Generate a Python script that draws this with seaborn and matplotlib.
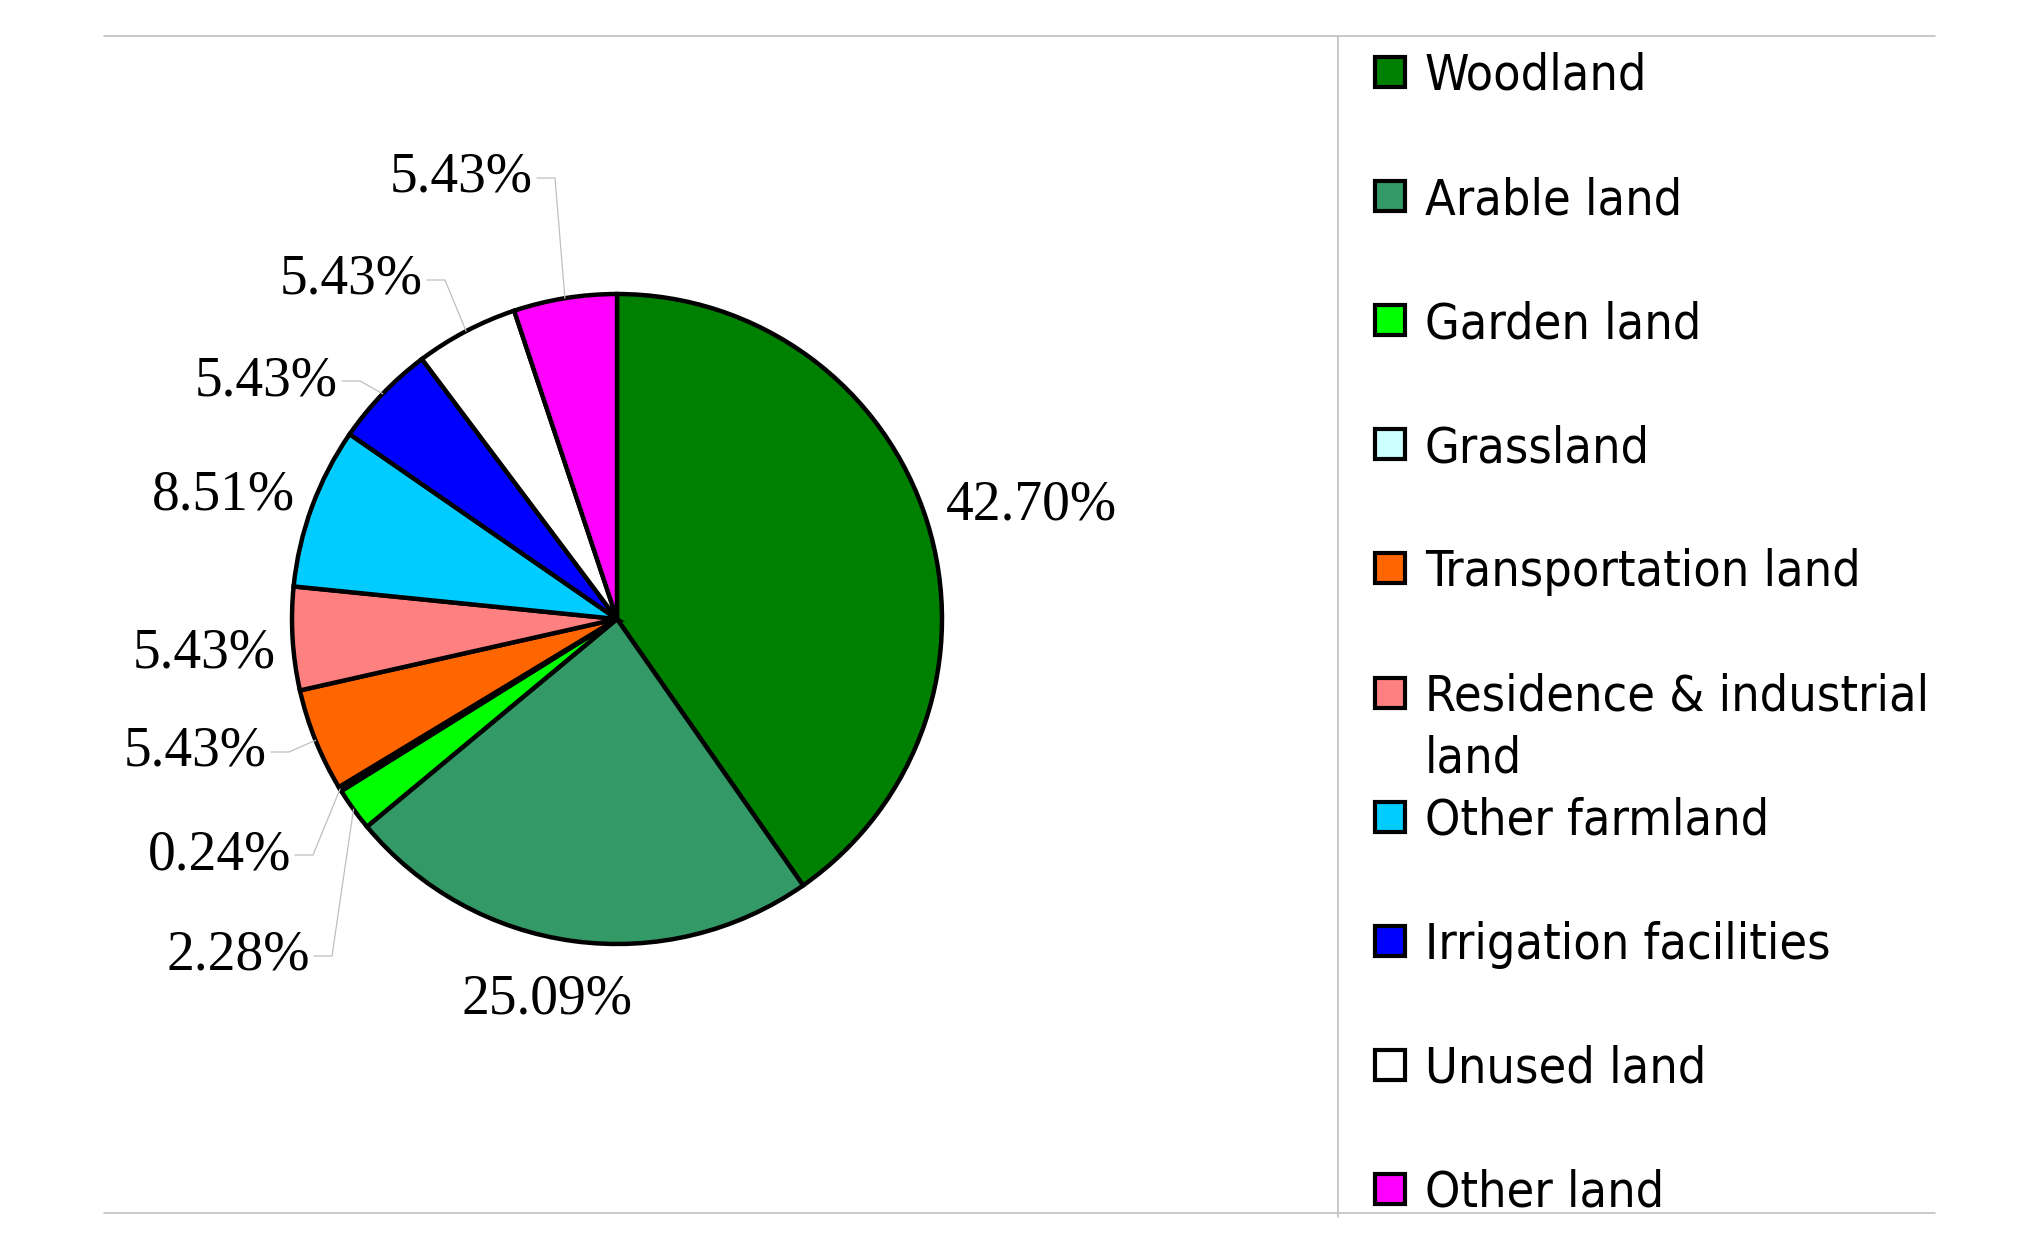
import numpy as np
import matplotlib
matplotlib.use('Agg')
import matplotlib.pyplot as plt
import seaborn as sns
from matplotlib.lines import Line2D
from matplotlib.patches import Rectangle

# land use shares (%), in drawing order, clockwise from 12 o'clock
categories = ['Woodland', 'Arable land', 'Garden land', 'Grassland',
              'Transportation land', 'Residence & industrial\nland',
              'Other farmland', 'Irrigation facilities', 'Unused land', 'Other land']
shares = [42.70, 25.09, 2.28, 0.24, 5.43, 5.43, 8.51, 5.43, 5.43, 5.43]
colors = ['#008000', '#339966', '#00FF00', '#CCFFFF', '#FF6600',
          '#FF8080', '#00CCFF', '#0000FF', '#FFFFFF', '#FF00FF']

W, H = 2040, 1256
CX, CY, R = 617, 619, 325   # pie centre / radius in pixels

# label anchors (pixel x, pixel y, alignment, leader line?)
label_layout = [
    (1031, 505, 'center', False),
    (547, 999, 'center', False),
    (310, 956, 'right', True),
    (291, 855, 'right', True),
    (267, 752, 'right', True),
    (276, 653, 'right', False),
    (295, 496, 'right', False),
    (338, 381, 'right', True),
    (423, 280, 'right', True),
    (533, 178, 'right', True),
]

sns.set_theme(style='white')
plt.rcParams['font.family'] = ['Liberation Serif', 'DejaVu Serif']

fig = plt.figure(figsize=(W / 100, H / 100), dpi=100)
ax = fig.add_axes([0, 0, 1, 1])


def to_data(px, py):
    return (px - CX) / R, (CY - py) / R


def to_fig(px, py):
    return px / W, 1 - py / H


wedges, _ = ax.pie(shares, colors=colors, startangle=90, counterclock=False,
                   radius=1.0,
                   wedgeprops=dict(edgecolor='black', linewidth=3.2))
ax.set_xlim(-CX / R, (W - CX) / R)
ax.set_ylim(-(H - CY) / R, CY / R)
ax.set_axis_off()

for w, v, (px, py, ha, leader) in zip(wedges, shares, label_layout):
    x, y = to_data(px, py)
    ax.text(x, y, f'{v:.2f}%', ha=ha, va='center', fontsize=40, color='black')
    if leader:
        ang = np.deg2rad((w.theta1 + w.theta2) / 2)
        ex, ey = np.cos(ang), np.sin(ang)
        x0, _ = to_data(px + 4, py)
        x1, _ = to_data(px + 22, py)
        ax.plot([x0, x1, ex], [y, y, ey], color='#bfbfbf', lw=0.9,
                solid_joinstyle='miter')

# chart frame lines
frame_col = '#c0c0c0'
for (xa, ya), (xb, yb) in [((104, 36), (1935, 36)),
                           ((104, 1213), (1935, 1213)),
                           ((1338, 36), (1338, 1217))]:
    p0, p1 = to_fig(xa, ya), to_fig(xb, yb)
    fig.add_artist(Line2D([p0[0], p1[0]], [p0[1], p1[1]], color=frame_col,
                          lw=1.2, transform=fig.transFigure))

# legend
row0, step = 72, 124.1
for i, (name, c) in enumerate(zip(categories, colors)):
    yc = row0 + i * step
    x0, y0 = to_fig(1375, yc + 15)
    fig.add_artist(Rectangle((x0, y0), 30 / W, 30 / H, facecolor=c,
                             edgecolor='black', lw=3,
                             transform=fig.transFigure))
    for k, line in enumerate(name.split('\n')):
        tx, ty = to_fig(1425, yc + 4 + k * 62)
        fig.text(tx, ty, line, ha='left', va='center', fontsize=36,
                 family=['DejaVu Sans'], stretch='condensed', color='black')

fig.savefig('out.png', dpi=100, facecolor='white')
